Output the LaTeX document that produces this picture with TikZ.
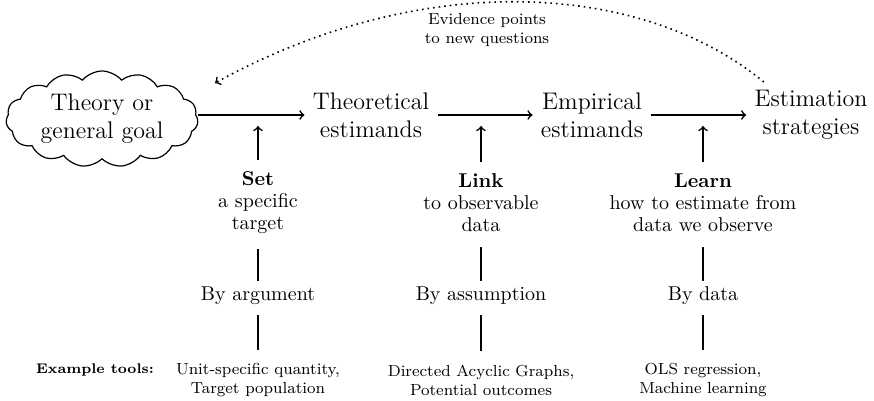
\documentclass[tikz,border=0pt]{standalone}
\usetikzlibrary{shapes.symbols,positioning}
\begin{document}
\begin{tikzpicture}[x=0.5pt,y=-0.5pt,
    stage/.style={font=\large,align=center,inner sep=4pt},
    goal/.style={cloud,cloud puffs=15,cloud puff arc=100,draw,semithick,aspect=2.3,
        minimum width=96pt,minimum height=48pt,inner sep=0pt,font=\large,align=center},
    aim/.style={font={\fontsize{10}{11}\selectfont},align=center,inner sep=3pt},
    way/.style={font=\normalsize,inner sep=3pt},
    tool/.style={font=\footnotesize,align=center,inner sep=3pt},
    flow/.style={thick,->},
    rule/.style={thick}]
    \useasboundingbox (0,0) rectangle (874,401);

    % main chain
    \node[goal] (theory) at (102,119) {Theory or\\general goal};
    \node[stage] (theo) at (371,115) {Theoretical\\estimands};
    \node[stage] (emp) at (592,115) {Empirical\\estimands};
    \node[stage] (strat) at (811,115) {Estimation\\strategies};
    \draw[flow] (theory.east |- theo) -- (theo);
    \draw[flow] (theo) -- (emp);
    \draw[flow] (emp) -- (strat);

    % feedback
    \node[tool] (evid) at (487,30) {Evidence points\\to new questions};
    \coordinate (back) at (215,83);
    \draw[thick,dotted,->] (strat.145) .. controls (640,-20) and (420,-30) .. (back);

    % the three steps
    \node[aim] (set) at (258,203) {\textbf{Set}\\a specific\\target};
    \node[aim] (link) at (481,203) {\textbf{Link}\\to observable\\data};
    \node[aim] (learn) at (703,203) {\textbf{Learn}\\how to estimate from\\data we observe};

    \node[way] (arg) at (258,296) {By argument};
    \node[way] (ass) at (481,296) {By assumption};
    \node[way] (dat) at (703,296) {By data};

    \node[tool] (t1) at (258,380) {Unit-specific quantity,\\Target population};
    \node[tool] (t2) at (481,380) {Directed Acyclic Graphs,\\Potential outcomes};
    \node[tool] (t3) at (703,380) {OLS regression,\\Machine learning};
    \node[font=\scriptsize\bfseries] (ex) at (95,370) {Example tools:};

    \foreach \a/\w/\t in {set/arg/t1,link/ass/t2,learn/dat/t3}{
        \draw[flow,shorten <=3pt,shorten >=5.5pt] (\a.north) -- (\a.north |- theo);
        \draw[rule,shorten <=4.5pt] (\a) -- (\w);
        \draw[rule,shorten <=2pt,shorten >=3.5pt] (\w) -- (\t);
    }
\end{tikzpicture}
\end{document}
